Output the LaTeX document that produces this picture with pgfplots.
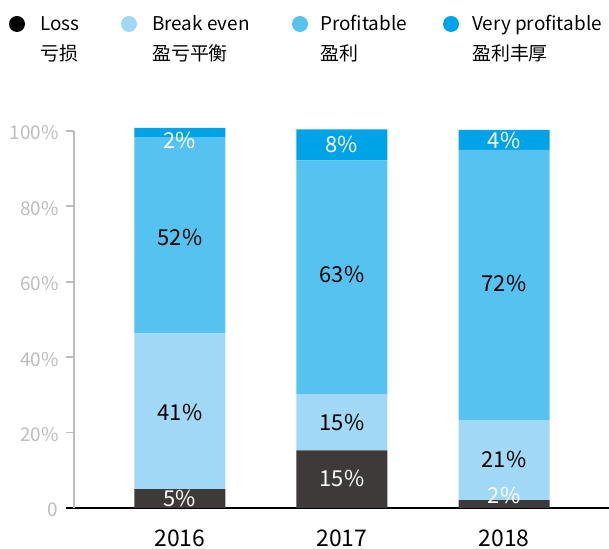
\documentclass[border=0pt]{standalone}
\usepackage{pgfplots}
\pgfplotsset{compat=1.18}
\usepackage{fontspec}
\setmainfont{Noto Sans CJK SC}
\definecolor{loss}{HTML}{3E3A39}
\definecolor{be}{HTML}{A0D8F5}
\definecolor{prof}{HTML}{56C2F0}
\definecolor{vp}{HTML}{00A3E8}
\definecolor{tickgray}{HTML}{BDBDBD}
\begin{document}
\begin{tikzpicture}[x=1bp,y=1bp]
\useasboundingbox (0,0) rectangle (609,549);
\pgfplotsset{myaxis/.style={at={(74bp,41bp)}, anchor=south west, scale only axis,
  width=535bp, height=377bp, xmin=-0.654, xmax=2.648, ymin=0, ymax=100, clip=false,
  /pgf/number format/assume math mode=true}}
\begin{axis}[myaxis, ybar stacked, bar width=91bp,
  axis x line*=bottom, axis y line*=left,
  x axis line style={black, line width=2bp, shorten <=-8bp},
  y axis line style={tickgray, line width=1.8bp},
  xtick={0,1,2}, xticklabels={2016,2017,2018},
  xtick style={draw=none},
  xticklabel style={font=\fontsize{23}{23}\selectfont, yshift=-10bp},
  ytick={0,20,40,60,80,100}, yticklabels={0,20\%,40\%,60\%,80\%,100\%},
  ytick style={tickgray, line width=1.8bp},
  tick align=outside, major tick length=8bp,
  yticklabel style={tickgray, font=\fontsize{19}{19}\selectfont, xshift=-4bp, yshift=-2bp},
]
\addplot[fill=loss, draw=none] coordinates {(0,5.0) (1,15.3) (2,2.1)};
\addplot[fill=be, draw=none] coordinates {(0,41.3) (1,14.9) (2,21.2)};
\addplot[fill=prof, draw=none] coordinates {(0,52.1) (1,62.0) (2,71.7)};
\addplot[fill=vp, draw=none] coordinates {(0,2.4) (1,8.2) (2,5.3)};
\end{axis}
\begin{axis}[myaxis, hide axis]
\addplot[draw=none, mark=none, nodes near coords={\pgfmathprintnumber{\pgfplotspointmeta}\%},
  point meta=explicit,
  every node near coord/.style={white, anchor=center, font=\fontsize{22}{22}\selectfont}]
  table[meta=l] {
x y l
0 2.6 5
0 97.6 2
1 7.9 15
1 96.3 8
2 3.2 2
2 97.4 4
};
\addplot[draw=none, mark=none, nodes near coords={\pgfmathprintnumber{\pgfplotspointmeta}\%},
  point meta=explicit,
  every node near coord/.style={black, anchor=center, font=\fontsize{22}{22}\selectfont}]
  table[meta=l] {
x y l
0 25.4 41
0 71.7 52
1 22.8 15
1 61.9 63
2 13 21
2 59.5 72
};
\end{axis}
\begin{scope}[every node/.style={anchor=base west, inner sep=0pt, font=\fontsize{19}{19}\selectfont}]
\fill[black] (17,525) circle (8);
\fill[be] (129,525) circle (8);
\fill[prof] (300,525) circle (8);
\fill[vp] (451,525) circle (8);
\node at (40,518) {Loss};
\node at (40,488) {亏损};
\node at (152,518) {Break even};
\node at (152,488) {盈亏平衡};
\node at (320,518) {Profitable};
\node at (320,488) {盈利};
\node at (472,518) {Very profitable};
\node at (472,488) {盈利丰厚};
\end{scope}
\end{tikzpicture}
\end{document}
